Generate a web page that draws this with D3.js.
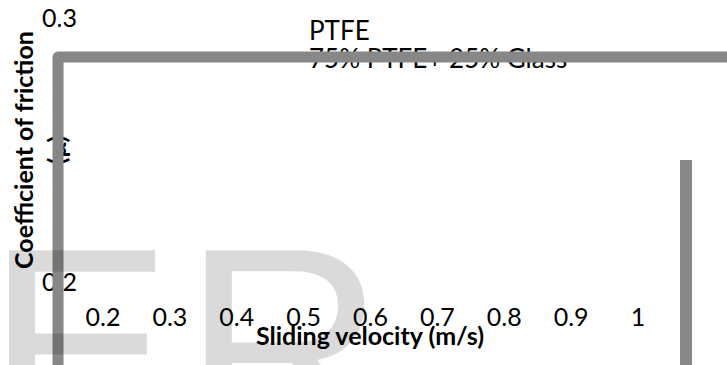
<!DOCTYPE html>
<html>
<head>
<meta charset="utf-8">
<script src="https://cdn.jsdelivr.net/npm/d3@7"></script>
<style>
  body { margin: 0; background: #fff; }
  svg { display: block; }
  text { font-family: Lato, "Noto Sans", sans-serif; fill: #000; }
</style>
</head>
<body>
<figure id="chart" style="margin:0"></figure>
<script>
// values
const xTicks = [0.2, 0.3, 0.4, 0.5, 0.6, 0.7, 0.8, 0.9, 1];
const yTicks = [0.2, 0.3];
const seriesNames = ["PTFE", "75% PTFE+ 25% Glass"];
// thick grey trace (PTFE), in data units
const traceX = [0.1335, 0.1335, 1.2];
const traceY = [0.15, 0.2852, 0.2852];
// grey bar at the right edge (75% PTFE+ 25% Glass)
const barX = [1.0725];
const barTop = [0.2462];
const barBase = 0.15;
const watermark = "ER";

const width = 727;
const height = 365;

const svg = d3.select("figure#chart")
  .append("svg")
  .attr("width", width)
  .attr("height", height);

const x = d3.scaleLinear().domain([0.2, 1]).range([102.5, 637.5]);
const y = d3.scaleLinear().domain([0.2, 0.3]).range([282, 18]);

// axes
const xAxis = svg.append("g")
  .attr("transform", "translate(0,308)")
  .call(d3.axisBottom(x).tickValues(xTicks).tickSize(0).tickPadding(0).tickFormat(d => String(d)));
xAxis.select(".domain").remove();
xAxis.selectAll("text").style("font-size", "25px").style("font-family", null);

const yAxis = svg.append("g")
  .attr("transform", "translate(77,0)")
  .call(d3.axisLeft(y).tickValues(yTicks).tickSize(0).tickPadding(0).tickFormat(d => String(d)));
yAxis.select(".domain").remove();
yAxis.selectAll("text").style("font-size", "25px").style("font-family", null);

// axis titles
svg.append("text")
  .attr("x", 370)
  .attr("y", 345)
  .attr("text-anchor", "middle")
  .style("font-size", "25px")
  .style("font-weight", "bold")
  .text("Sliding velocity (m/s)");

const yTitle = svg.append("text")
  .attr("transform", "translate(33,150) rotate(-90)")
  .attr("text-anchor", "middle")
  .style("font-size", "25px")
  .style("font-weight", "bold");
yTitle.append("tspan").attr("x", 0).attr("y", 0).text("Coefficient of friction");
yTitle.append("tspan").attr("x", 0).attr("y", 33).text("(\u03bc)");

// legend entries
svg.selectAll("text.legend")
  .data(seriesNames)
  .enter()
  .append("text")
  .attr("class", "legend")
  .attr("x", 309)
  .attr("y", (d, i) => 40 + i * 28)
  .style("font-size", "26px")
  .text(d => d);

// thick grey marks, opaque, over the texts
const line = d3.line()
  .x(d => x(d[0]))
  .y(d => y(d[1]));

svg.append("path")
  .datum(d3.zip(traceX, traceY))
  .attr("d", line)
  .attr("fill", "none")
  .attr("stroke", "#878787")
  .attr("stroke-width", 11)
  .attr("stroke-linejoin", "round");

svg.selectAll("rect.bar")
  .data(d3.zip(barX, barTop))
  .enter()
  .append("rect")
  .attr("class", "bar")
  .attr("x", d => x(d[0]) - 6)
  .attr("y", d => y(d[1]))
  .attr("width", 12)
  .attr("height", d => y(barBase) - y(d[1]))
  .attr("fill", "#878787");

// translucent watermark laid over everything
svg.append("text")
  .attr("x", -14)
  .attr("y", 443)
  .style("font-family", "'Liberation Sans', Arial, sans-serif")
  .style("font-size", "280px")
  .style("letter-spacing", "10px")
  .style("fill", "#000")
  .style("fill-opacity", 0.145)
  .text(watermark);
</script>
</body>
</html>
